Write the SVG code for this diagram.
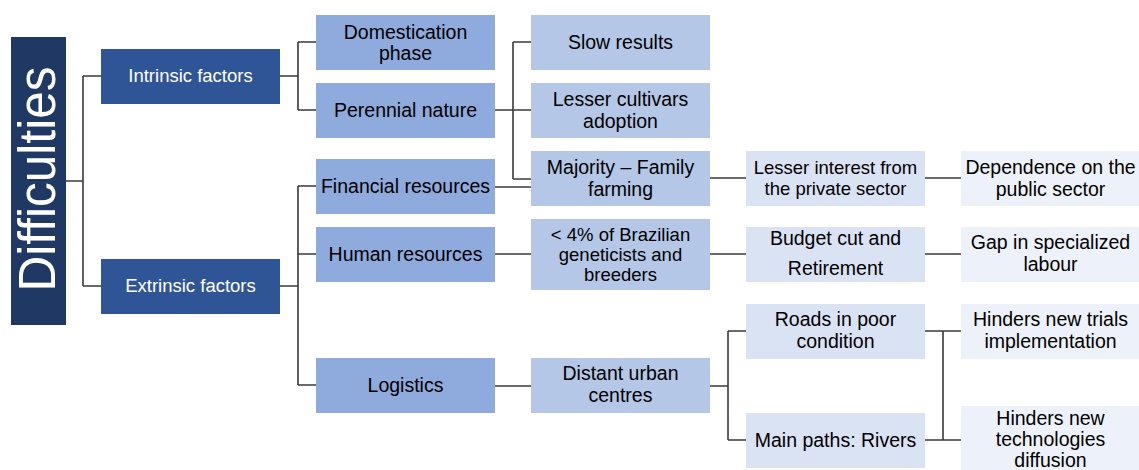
<svg xmlns="http://www.w3.org/2000/svg" width="1139" height="470" viewBox="0 0 1139 470">
<style>
text{font-family:"Liberation Sans",Arial,sans-serif;font-size:19.5px;fill:#000;text-anchor:middle}
.w{fill:#fff;font-size:18.5px}
.s{font-size:18.5px}
.l0{fill:#203864}
.l1{fill:#2F5597}
.l2{fill:#8FAADC}
.l3{fill:#B4C7E7}
.l4{fill:#DAE3F3}
.l5{fill:#EDF1F9}
#connectors path{fill:none;stroke:#3a3a3a;stroke-width:1.6}
</style>
<rect width="1139" height="470" fill="#fff"/>
<g id="connectors">
<path d="M66 181H83M83 76V286M83 76H101M83 286H101"/>
<path d="M280 76H298M298 42V110M298 42H316M298 110H316"/>
<path d="M495 110H513M513 42V179M513 42H531M513 110H531M513 179H531"/>
<path d="M495 187H531"/>
<path d="M280 286H298M298 186V385M298 186H316M298 254H316M298 385H316"/>
<path d="M495 254H531"/>
<path d="M495 386H531"/>
<path d="M710 178H746M925 178H961"/>
<path d="M710 254H746M925 254H961"/>
<path d="M710 386H728M728 331V440M728 331H746M728 440H746"/>
<path d="M925 331H961M925 440H961M943 331V440"/>
</g>
<g id="difficulties"><rect class="l0" x="11" y="37" width="55" height="288"/><text class="w" transform="translate(55,179) rotate(-90)" style="font-size:51px" textLength="225" lengthAdjust="spacingAndGlyphs">Difficulties</text></g>
<g id="intrinsic"><rect class="l1" x="101" y="49" width="179" height="55"/><text class="w" x="190.5" y="82">Intrinsic factors</text></g>
<g id="extrinsic"><rect class="l1" x="101" y="259" width="179" height="55"/><text class="w" x="190.5" y="292">Extrinsic factors</text></g>
<g id="domestication"><rect class="l2" x="316" y="15" width="179" height="55"/><text x="405.5" y="38.5">Domestication</text><text x="405.5" y="59.5">phase</text></g>
<g id="perennial"><rect class="l2" x="316" y="83" width="179" height="55"/><text x="405.5" y="117">Perennial nature</text></g>
<g id="financial"><rect class="l2" x="316" y="159" width="179" height="55"/><text x="405.5" y="193">Financial resources</text></g>
<g id="human"><rect class="l2" x="316" y="227" width="179" height="55"/><text x="405.5" y="261">Human resources</text></g>
<g id="logistics"><rect class="l2" x="316" y="358" width="179" height="55"/><text x="405.5" y="392">Logistics</text></g>
<g id="slow"><rect class="l3" x="531" y="15" width="179" height="55"/><text x="620.5" y="49">Slow results</text></g>
<g id="lesser-cultivars"><rect class="l3" x="531" y="83" width="179" height="55"/><text x="620.5" y="106">Lesser cultivars</text><text x="620.5" y="127.5">adoption</text></g>
<g id="majority"><rect class="l3" x="531" y="151" width="179" height="55"/><text x="620.5" y="174">Majority – Family</text><text x="620.5" y="195.5">farming</text></g>
<g id="brazilian"><rect class="l3" x="531" y="219" width="179" height="71"/><text class="s" x="620.5" y="240.5">&lt; 4% of Brazilian</text><text class="s" x="620.5" y="260.5">geneticists and</text><text class="s" x="620.5" y="280.5">breeders</text></g>
<g id="distant"><rect class="l3" x="531" y="358" width="179" height="55"/><text x="620.5" y="380">Distant urban</text><text x="620.5" y="401.5">centres</text></g>
<g id="lesser-interest"><rect class="l4" x="746" y="151" width="179" height="55"/><text class="s" x="835.5" y="174">Lesser interest from</text><text class="s" x="835.5" y="195">the private sector</text></g>
<g id="budget"><rect class="l4" x="746" y="227" width="179" height="55"/><text x="835.5" y="245">Budget cut and</text><text x="835.5" y="275">Retirement</text></g>
<g id="roads"><rect class="l4" x="746" y="304" width="179" height="55"/><text x="835.5" y="326">Roads in poor</text><text x="835.5" y="347.5">condition</text></g>
<g id="rivers"><rect class="l4" x="746" y="413" width="179" height="55"/><text x="835.5" y="447">Main paths: Rivers</text></g>
<g id="dependence"><rect class="l5" x="961" y="151" width="179" height="55"/><text x="1050.5" y="174">Dependence on the</text><text x="1050.5" y="195.5">public sector</text></g>
<g id="gap"><rect class="l5" x="961" y="227" width="179" height="55"/><text x="1050.5" y="249">Gap in specialized</text><text x="1050.5" y="270.5">labour</text></g>
<g id="trials"><rect class="l5" x="961" y="304" width="179" height="55"/><text x="1050.5" y="326">Hinders new trials</text><text x="1050.5" y="347.5">implementation</text></g>
<g id="technologies"><rect class="l5" x="961" y="406" width="179" height="64"/><text x="1050.5" y="424.5">Hinders new</text><text x="1050.5" y="446">technologies</text><text x="1050.5" y="467">diffusion</text></g>
</svg>
